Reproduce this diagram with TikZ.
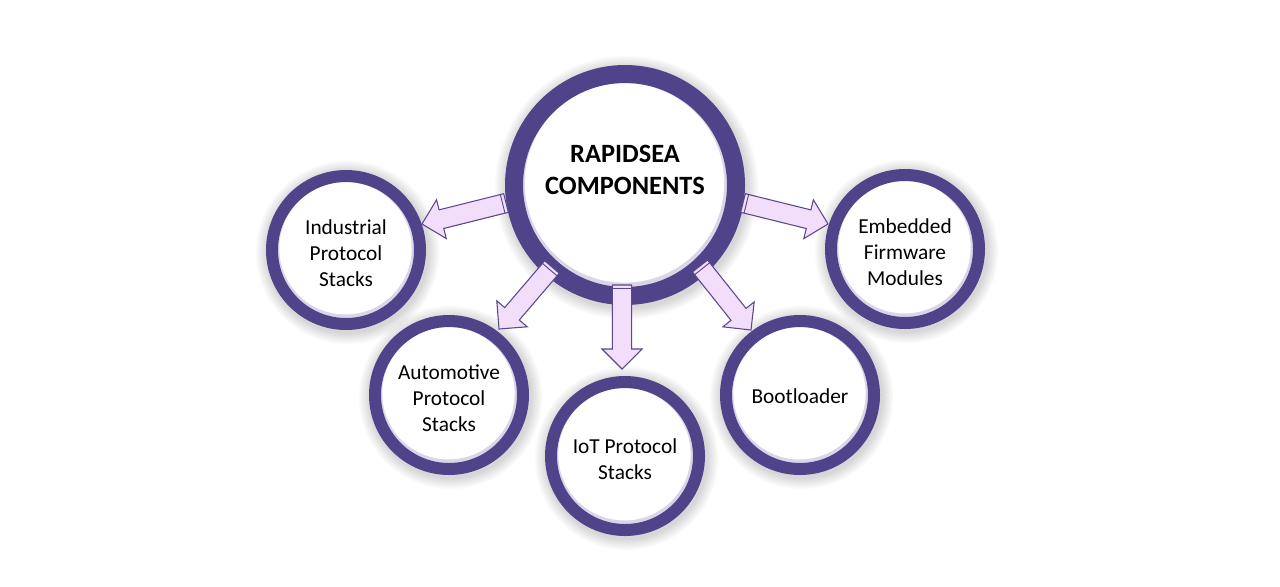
\documentclass[tikz,border=0pt]{standalone}
\usepackage{fontspec}
\setmainfont{Carlito}
\usetikzlibrary{calc}
\definecolor{ringpurple}{RGB}{81,67,138}
\definecolor{arrfill}{RGB}{242,221,250}
\definecolor{arrline}{RGB}{88,72,140}
\definecolor{crescent}{RGB}{218,214,232}

\newcommand\blkarrow[2]{%
  \coordinate (hb) at ($(#2)!15pt!(#1)$);
  \coordinate (t1) at ($(#1)!7.2pt!90:(#2)$);
  \coordinate (t2) at ($(#1)!7.2pt!-90:(#2)$);
  \coordinate (s1) at ($(hb)!7.2pt!90:(#2)$);
  \coordinate (s2) at ($(hb)!7.2pt!-90:(#2)$);
  \coordinate (w1) at ($(hb)!15pt!90:(#2)$);
  \coordinate (w2) at ($(hb)!15pt!-90:(#2)$);
  \coordinate (c0) at ($(#1)!2.6pt!(#2)$);
  \draw[arrowshape] (t1) -- (s1) -- (w1) -- (#2) -- (w2) -- (s2) -- (t2) -- cycle;
  \draw[arrowedge] ($(c0)!7.2pt!90:(#2)$) -- ($(c0)!7.2pt!-90:(#2)$);
}
% soft glow made of faint concentric discs
\newcommand\softglow[2]{%
  \foreach \k in {1,...,8}{%
    \fill[black, opacity=0.018] ([xshift=1.2pt,yshift=-1.8pt]#1) circle[radius=#2+\k*1.1pt];
  }%
}

\begin{document}
\begin{tikzpicture}[x=0.75pt,y=-0.75pt,
  sat/.style={circle, draw=ringpurple, line width=9pt, minimum size=111pt,
      inner sep=0pt, fill=crescent,
      path picture={\fill[white] ([xshift=-0.4pt,yshift=1.3pt]path picture bounding box.center) circle[radius=49.6pt];}},
  sattext/.style={align=center, font=\fontsize{16pt}{19.5pt}\selectfont},
  hub/.style={circle, draw=ringpurple, line width=13.5pt, minimum size=166.5pt,
      inner sep=0pt, fill=crescent,
      path picture={\fill[white] ([xshift=-0.4pt,yshift=1.6pt]path picture bounding box.center) circle[radius=74.8pt];}},
  hubtext/.style={align=center, font=\fontsize{19.8pt}{23.6pt}\selectfont\bfseries},
  arrowshape/.style={fill=arrfill, draw=arrline, line width=0.8pt, line join=miter},
  arrowedge/.style={draw=arrline, line width=0.7pt}
]
\useasboundingbox[fill=white] (0,0) rectangle (1280,586);

\coordinate (chub) at (625,185);
\coordinate (cind) at (346,250);
\coordinate (cauto) at (449,395);
\coordinate (ciot) at (625,456);
\coordinate (cboot) at (800,395);
\coordinate (cemb) at (905,249);

\softglow{chub}{90pt}
\softglow{cind}{60pt}
\softglow{cauto}{60pt}
\softglow{ciot}{60pt}
\softglow{cboot}{60pt}
\softglow{cemb}{60pt}

\node[hub] (hub) at (chub) {};
\node[hubtext] (hubtxt) at (625,170) {RAPIDSEA\\COMPONENTS};

\node[sat] (ind) at (cind) {};
\node[sat] (auto) at (cauto) {};
\node[sat] (iot) at (ciot) {};
\node[sat] (boot) at (cboot) {};
\node[sat] (emb) at (cemb) {};

\node[sattext] (indtxt) at ([yshift=-2.2pt]cind) {Industrial\\Protocol\\Stacks};
\node[sattext] (autotxt) at ([yshift=-2.2pt]cauto) {Automotive\\Protocol\\Stacks};
\node[sattext] (iottxt) at ([yshift=-2.2pt]ciot) {IoT Protocol\\Stacks};
\node[sattext] (boottxt) at ([yshift=-0.8pt]cboot) {Bootloader};
\node[sattext] (embtxt) at ([yshift=-2.2pt]cemb) {Embedded\\Firmware\\Modules};

\coordinate (a1) at (506,203);  \coordinate (b1) at (422,224);
\coordinate (a2) at (552,267);  \coordinate (b2) at (499,329);
\coordinate (a3) at (622,285);  \coordinate (b3) at (622,369);
\coordinate (a4) at (700,266);  \coordinate (b4) at (751,330);
\coordinate (a5) at (743,203);  \coordinate (b5) at (828,224);

\blkarrow{a1}{b1}
\blkarrow{a2}{b2}
\blkarrow{a3}{b3}
\blkarrow{a4}{b4}
\blkarrow{a5}{b5}
\end{tikzpicture}
\end{document}
